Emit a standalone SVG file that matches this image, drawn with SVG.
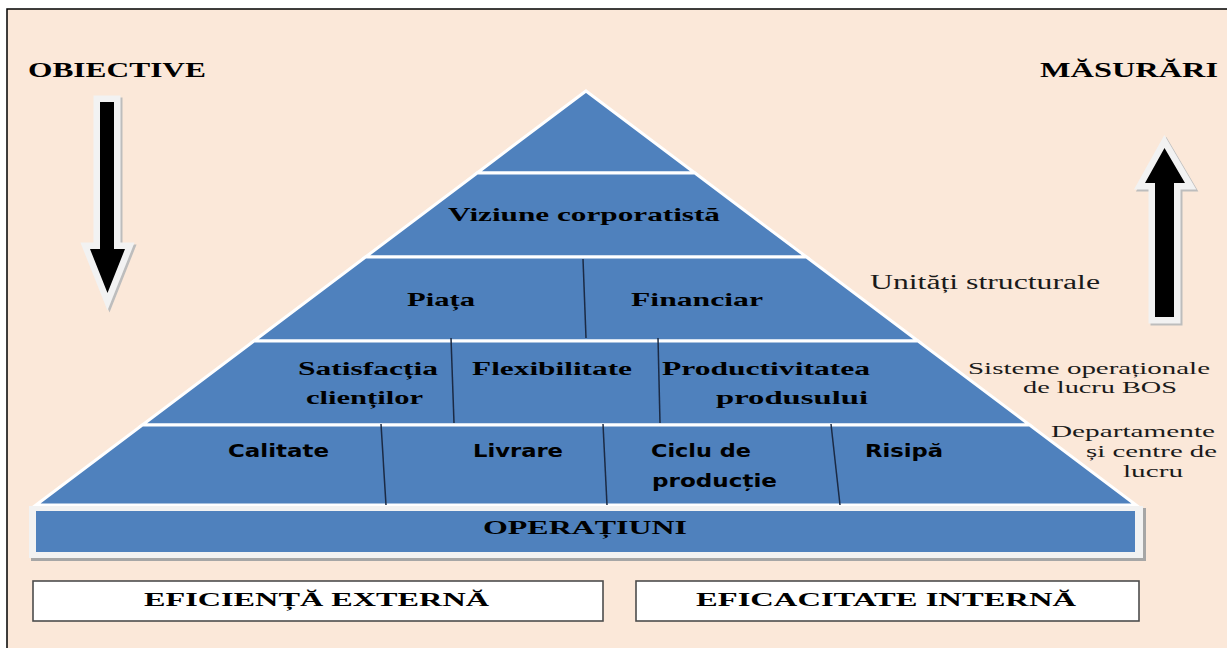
<svg xmlns="http://www.w3.org/2000/svg" width="1227" height="648" viewBox="0 0 1227 648">
<style>
.layer{fill:#4F81BD;stroke:#FFFFFF;stroke-width:3;stroke-linejoin:miter}
.div{stroke:#1B2A44;stroke-width:1.5;fill:none}
.sb{font-family:"Liberation Serif","Times New Roman",serif;font-weight:bold;fill:#000}
.ss{font-family:"DejaVu Sans",Verdana,sans-serif;font-weight:bold;fill:#000}
.sr{font-family:"Liberation Serif","Times New Roman",serif;fill:#1a1a1a}
.a-sh{fill:#BDBDBD;stroke:#BDBDBD;stroke-width:13;stroke-linejoin:miter}
.a-halo{fill:#F2F2F2;stroke:#F2F2F2;stroke-width:13;stroke-linejoin:miter}
.a-core{fill:#000}
.box{fill:#FFFFFF;stroke:#4D4D4D;stroke-width:1.6}
</style>
<rect x="0" y="0" width="1227" height="648" fill="#FFFFFF"/>
<rect id="frame" x="7" y="9" width="1240" height="660" fill="#FBE8D9" stroke="#000" stroke-width="1.5"/>

<g id="label-obiective"><text class="sb" x="28" y="77" font-size="21" textLength="178" lengthAdjust="spacingAndGlyphs">OBIECTIVE</text></g>
<g id="label-masurari"><text class="sb" x="1040" y="77" font-size="21" textLength="178" lengthAdjust="spacingAndGlyphs">MĂSURĂRI</text></g>

<g id="arrow-down">
<polygon class="a-sh" transform="translate(2,2)" points="100,102 114,102 114,249 125,249 107.5,293 90,249 100,249"/>
<polygon class="a-halo" points="100,102 114,102 114,249 125,249 107.5,293 90,249 100,249"/>
<polygon class="a-core" points="100,102 114,102 114,249 125,249 107.5,293 90,249 100,249"/>
</g>
<g id="arrow-up">
<polygon class="a-sh" transform="translate(2,2)" points="1164.5,148 1185,183 1174,183 1174,317 1155,317 1155,183 1145,183"/>
<polygon class="a-halo" points="1164.5,148 1185,183 1174,183 1174,317 1155,317 1155,183 1145,183"/>
<polygon class="a-core" points="1164.5,148 1185,183 1174,183 1174,317 1155,317 1155,183 1145,183"/>
</g>

<g id="pyramid">
<polygon id="layer1" class="layer" points="586,91 694.9,173 477.1,173"/>
<polygon id="layer2" class="layer" points="477.1,173 694.9,173 806.5,257 365.5,257"/>
<polygon id="layer3" class="layer" points="365.5,257 806.5,257 918.1,341 253.9,341"/>
<polygon id="layer4" class="layer" points="253.9,341 918.1,341 1029.7,425 142.3,425"/>
<polygon id="layer5" class="layer" points="142.3,425 1029.7,425 1136,505 36,505"/>
</g>

<g id="connectors">
<line class="div" x1="583" y1="259" x2="586" y2="338"/>
<line class="div" x1="451" y1="338" x2="454" y2="423"/>
<line class="div" x1="658" y1="338" x2="660" y2="423"/>
<line class="div" x1="381" y1="424" x2="386" y2="505"/>
<line class="div" x1="603" y1="424" x2="607" y2="505"/>
<line class="div" x1="831" y1="424" x2="840" y2="505"/>
</g>

<g id="node-viziune"><text class="sb" x="448" y="221" font-size="19" textLength="272" lengthAdjust="spacingAndGlyphs">Viziune corporatistă</text></g>
<g id="node-piata"><text class="sb" x="407" y="306" font-size="19" textLength="68" lengthAdjust="spacingAndGlyphs">Piața</text></g>
<g id="node-financiar"><text class="sb" x="631" y="306" font-size="19" textLength="132" lengthAdjust="spacingAndGlyphs">Financiar</text></g>
<g id="node-satisfactia">
<text class="sb" x="298" y="375" font-size="18" textLength="140" lengthAdjust="spacingAndGlyphs">Satisfacția</text>
<text class="sb" x="306" y="404" font-size="18" textLength="117" lengthAdjust="spacingAndGlyphs">clienților</text>
</g>
<g id="node-flexibilitate"><text class="sb" x="472" y="375" font-size="18" textLength="160" lengthAdjust="spacingAndGlyphs">Flexibilitate</text></g>
<g id="node-productivitatea">
<text class="sb" x="662" y="375" font-size="18" textLength="208" lengthAdjust="spacingAndGlyphs">Productivitatea</text>
<text class="sb" x="716" y="404" font-size="18" textLength="152" lengthAdjust="spacingAndGlyphs">produsului</text>
</g>
<g id="node-calitate"><text class="ss" x="228" y="457" font-size="17" textLength="101" lengthAdjust="spacingAndGlyphs">Calitate</text></g>
<g id="node-livrare"><text class="ss" x="473" y="457" font-size="17" textLength="90" lengthAdjust="spacingAndGlyphs">Livrare</text></g>
<g id="node-ciclu">
<text class="ss" x="651" y="457" font-size="17" textLength="100" lengthAdjust="spacingAndGlyphs">Ciclu de</text>
<text class="ss" x="652" y="487" font-size="17" textLength="125" lengthAdjust="spacingAndGlyphs">producție</text>
</g>
<g id="node-risipa"><text class="ss" x="865" y="457" font-size="17" textLength="78" lengthAdjust="spacingAndGlyphs">Risipă</text></g>

<g id="node-operatiuni">
<rect x="31" y="508" width="1115" height="53" fill="#A6A6A6"/>
<rect x="29" y="506" width="1114" height="52" fill="#F2F2F2"/>
<rect x="36" y="511" width="1099" height="41" fill="#4F81BD"/>
<text class="sb" x="483" y="534" font-size="18" textLength="204" lengthAdjust="spacingAndGlyphs">OPERAȚIUNI</text>
</g>

<g id="node-eficienta">
<rect class="box" x="33" y="581" width="570" height="40"/>
<text class="sb" x="144" y="606" font-size="18" textLength="345" lengthAdjust="spacingAndGlyphs">EFICIENȚĂ EXTERNĂ</text>
</g>
<g id="node-eficacitate">
<rect class="box" x="636" y="581" width="503" height="40"/>
<text class="sb" x="696" y="606" font-size="18" textLength="380" lengthAdjust="spacingAndGlyphs">EFICACITATE INTERNĂ</text>
</g>

<g id="label-unitati"><text class="sr" x="870" y="289" font-size="20" textLength="230" lengthAdjust="spacingAndGlyphs">Unități structurale</text></g>
<g id="label-sisteme">
<text class="sr" x="968" y="374" font-size="17" textLength="242" lengthAdjust="spacingAndGlyphs">Sisteme operaționale</text>
<text class="sr" x="1023" y="393" font-size="17" textLength="154" lengthAdjust="spacingAndGlyphs">de lucru BOS</text>
</g>
<g id="label-departamente">
<text class="sr" x="1051" y="437" font-size="17" textLength="164" lengthAdjust="spacingAndGlyphs">Departamente</text>
<text class="sr" x="1086" y="457" font-size="17" textLength="131" lengthAdjust="spacingAndGlyphs">și centre de</text>
<text class="sr" x="1123" y="477" font-size="17" textLength="60" lengthAdjust="spacingAndGlyphs">lucru</text>
</g>
</svg>
